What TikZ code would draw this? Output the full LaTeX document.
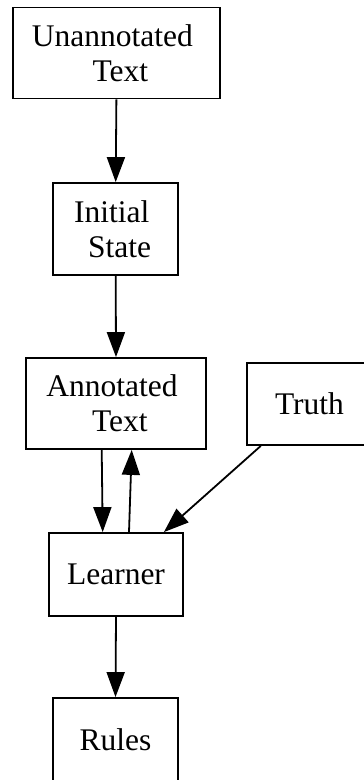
\documentclass[tikz,border=0pt]{standalone}
\usepackage{fontspec}
\setmainfont{Liberation Serif}
\usetikzlibrary{arrows.meta,calc}
\begin{document}
\begin{tikzpicture}[x=1pt,y=1pt,
  box/.style={draw=black,line width=1.8pt,inner sep=0pt,align=center,
    font=\fontsize{31.5}{35}\selectfont},
  edge/.style={line width=1.8pt,-{Triangle[length=25pt,width=18pt]}}]
\useasboundingbox (0,0) rectangle (364,-780);
\fill[white] (0,0) rectangle (364,-780);
\node[box,minimum width=207pt,minimum height=91pt] (ua) at (116.4,-53)
  {Unannotated\hspace*{0.25em}\\\hspace*{0.25em}Text};
\node[box,minimum width=125pt,minimum height=92pt] (is) at (115.7,-229)
  {Initial\hspace*{0.25em}\\\hspace*{0.25em}State};
\node[box,minimum width=180pt,minimum height=91pt] (at) at (116,-403.5)
  {Annotated\hspace*{0.25em}\\\hspace*{0.25em}Text};
\node[box,minimum width=125pt,minimum height=82pt] (tr) at (309.5,-404)
  {Truth};
\node[box,minimum width=134pt,minimum height=83pt] (le) at (116,-574.5)
  {Learner};
\node[box,minimum width=125pt,minimum height=84pt] (ru) at (115.5,-740)
  {Rules};
\draw[edge] (ua.south) -- (is.north);
\draw[edge] (is.south) -- (at.north);
\draw[edge] ($(at.south)+(-14.3,0)$) -- ($(le.north)+(-13.3,0)$);
\draw[edge] ($(le.north)+(13,0)$) -- ($(at.south)+(15.7,0)$);
\draw[edge] ($(tr.south west)+(14.7,0)$) -- ($(le.north east)+(-20,0)$);
\draw[edge] (le.south) -- (ru.north);
\end{tikzpicture}
\end{document}
